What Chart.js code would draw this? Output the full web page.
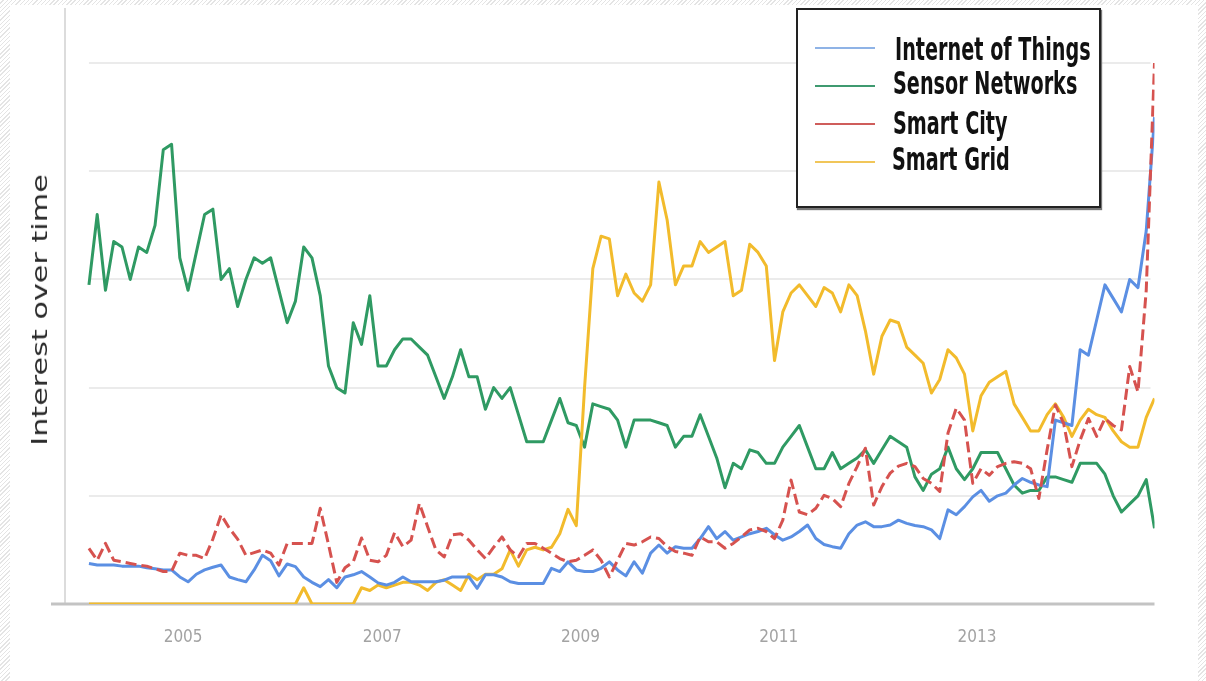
<!DOCTYPE html>
<html><head><meta charset="utf-8">
<script src="https://cdn.jsdelivr.net/npm/chart.js@4.4.1/dist/chart.umd.min.js"></script>
<style>
html,body{margin:0;padding:0;}
body{width:1206px;height:681px;overflow:hidden;position:relative;
 background:repeating-linear-gradient(135deg,#ffffff 0px,#ffffff 2px,#e4e4e4 2px,#e4e4e4 3px);}
#panel{position:absolute;left:10px;top:5px;right:8px;bottom:0;background:#fff;}
#c{position:absolute;left:0;top:0;}
#ytitle{position:absolute;left:40px;top:310px;transform:translate(-50%,-50%) rotate(-90deg) scaleX(1.44);
 font-family:"DejaVu Sans",sans-serif;font-size:21px;color:#2a2a2a;white-space:nowrap;}
#legend{position:absolute;left:796px;top:8px;width:301px;height:196px;border:2px solid #222;background:#fff;box-shadow:1px 2px 1px #777;}
.sw{position:absolute;left:17px;width:60px;height:2px;}
.lbl{position:absolute;font-family:"DejaVu Sans Condensed","DejaVu Sans",sans-serif;font-weight:bold;font-size:24px;line-height:30px;height:30px;color:#111;white-space:nowrap;transform:scale(0.89,1.3);transform-origin:left center;}
</style></head>
<body>
<div id="panel"></div>
<canvas id="c" width="1206" height="681"></canvas>
<div id="ytitle">Interest over time</div>
<div id="legend"></div>
<script>
// Monthly index 0 = Jan 2004
const yearTickPos = [11.4, 35.5, 59.5, 83.5, 107.5];
const yearLabels = ['2005', '2007', '2009', '2011', '2013'];
const gridValues = [20, 40, 60, 80, 100];
const seriesNames = ['Internet of Things', 'Sensor Networks', 'Smart City', 'Smart Grid'];

const iot = [
 7.5,7.2,7.2,7.2,7,7,7,6.7,6.5,6.3,
 6.3,5,4.1,5.5,6.3,6.8,7.2,5,4.5,4.1,
 6.3,9,8,5.2,7.4,6.9,5,4,3.2,4.5,
 3,5,5.4,6,5,3.9,3.5,4,5,4.1,
 4.1,4.1,4.1,4.4,5,5,5,2.9,5.4,5.4,
 5,4.1,3.8,3.8,3.8,3.8,6.6,6,7.8,6.3,
 6,6,6.6,7.8,6.3,5.2,7.8,5.7,9.4,10.9,
 9.4,10.6,10.3,10.3,12.1,14.3,12.1,13.4,11.8,12.4,
 13,13.4,14,12.8,11.8,12.4,13.4,14.6,12.1,11,
 10.6,10.3,13,14.6,15.2,14.3,14.3,14.6,15.5,14.9,
 14.5,14.3,13.7,12.1,17.4,16.5,18,19.8,21,19,
 20,20.5,22,23.2,22.5,22,21.7,34,33.5,33,
 47,46,52.5,59,56.5,54,60,58.5,69,90
];
const sensor = [
 59,72,58,67,66,60,66,65,70,84,
 85,64,58,65,72,73,60,62,55,60,
 64,63,64,58,52,56,66,64,57,44,
 40,39,52,48,57,44,44,47,49,49,
 47.5,46,42,38,42,47,42,42,36,40,
 38,40,35,30,30,30,34,38,33.5,33,
 29,37,36.5,36,34,29,34,34,34,33.5,
 33,29,31,31,35,31,27,21.5,26,25,
 28.5,28,26,26,29,31,33,29,25,25,
 28,25,26,27,28.5,26,28.5,31,30,29,
 23.5,21,24,25,29,25,23,25,28,28,
 28,25,22,20.5,21,21,23.5,23.5,23,22.5,
 26,26,26,24,20,17,18.5,20,23,14
];
const city = [
 10.3,8.1,11.2,8.1,7.8,7.5,7.2,7,6.5,6,
 6,9.4,9,9,8.4,12,16.5,14,12,9,
 9.5,10,9.4,7.2,11.2,11.2,11.2,11.2,17.7,11,
 4,6.7,7.8,12.2,8.1,7.8,9,13.2,10.6,11.8,
 18.6,14.3,10,8.7,12.8,13,11.8,10,8.4,10.5,
 12.4,10,8.7,11.2,11.2,10.3,9.4,8.4,7.8,8.1,
 9,10,8.1,5,8.1,11.2,10.9,11.5,12.4,12.1,
 10.6,9.7,9.4,9,12.4,11.5,11.5,10.3,11.2,12.4,
 13.7,14,13.4,12.1,15.5,22.9,17,16.5,17.7,20.1,
 19.5,18,22.3,25.4,28.8,18.3,21.7,24.2,25.5,26,
 25.4,23.2,22.3,20.8,31.6,36.2,34,22.3,25,23.8,
 25.4,26,26.3,26,25,19.5,28.5,36.8,33.4,25.4,
 30.3,34.3,31,34.3,33,32.2,43.9,39.2,58,100
];
const grid = [
 0,0,0,0,0,0,0,0,0,0,
 0,0,0,0,0,0,0,0,0,0,
 0,0,0,0,0,0,3,0,0,0,
 0,0,0,3,2.5,3.5,3,3.5,4,4,
 3.5,2.5,4,4.5,3.5,2.5,5.5,4.5,5.5,5.5,
 6.5,10,7,10,10.5,10,10.5,13,17.5,14.5,
 40,62,68,67.5,57,61,57.5,56,59,78,
 71,59,62.5,62.5,67,65,66,67,57,58,
 66.5,65,62.5,45,54,57.5,59,57,55,58.5,
 57.5,54,59,57,50.5,42.5,49.5,52.5,52,47.5,
 46,44.5,39,41.5,47,45.5,42.5,32,38.5,41,
 42,43,37,34.5,32,32,35,37,34.5,31,
 34,36,35,34.5,32,30,29,29,34.5,38
];

const colors = ['#5b8fe3', '#2f9a63', '#d6524f', '#f2bb2c'];
const legendColors = ['#8fb3e6', '#3f9a70', '#cf5d5b', '#f1c659'];
const toPts = arr => arr.map((v, i) => ({x: i, y: v}));

const gridPlugin = {
  id: 'trendGrid',
  beforeDatasetsDraw(chart) {
    const {ctx, chartArea, scales: {x, y}} = chart;
    ctx.save();
    ctx.strokeStyle = '#ebebeb';
    ctx.lineWidth = 2;
    const x0 = x.getPixelForValue(0);
    gridValues.forEach(v => {
      const py = Math.round(y.getPixelForValue(v));
      ctx.beginPath(); ctx.moveTo(x0, py); ctx.lineTo(chartArea.right - 4, py); ctx.stroke();
    });
    const pb = y.getPixelForValue(0);
    ctx.strokeStyle = '#c3c3c3';
    ctx.lineWidth = 3;
    ctx.beginPath(); ctx.moveTo(chartArea.left - 14, pb); ctx.lineTo(chartArea.right, pb); ctx.stroke();
    ctx.restore();
  }
};

const chart = new Chart(document.getElementById('c'), {
  type: 'line',
  data: {
    datasets: [
      {label: seriesNames[0], data: toPts(iot), borderColor: colors[0], order: 1},
      {label: seriesNames[1], data: toPts(sensor), borderColor: colors[1], order: 3},
      {label: seriesNames[2], data: toPts(city), borderColor: colors[2], borderDash: [11, 5], order: 0},
      {label: seriesNames[3], data: toPts(grid), borderColor: colors[3], order: 2}
    ]
  },
  options: {
    responsive: false,
    animation: false,
    layout: {padding: {left: 0, right: 51.5, top: 9, bottom: 0}},
    elements: {
      point: {radius: 0, hoverRadius: 0},
      line: {tension: 0, borderWidth: 3, borderJoinStyle: 'round', borderCapStyle: 'butt', fill: false}
    },
    plugins: {legend: {display: false}, tooltip: {enabled: false}},
    scales: {
      x: {
        type: 'linear', min: -2.9, max: 129,
        grid: {display: false, drawTicks: false},
        border: {display: false},
        afterBuildTicks: s => { s.ticks = yearTickPos.map(v => ({value: v})); },
        afterFit: s => { s.height = 77; },
        ticks: {
          callback: (v, i) => yearLabels[i],
          font: {family: '"DejaVu Sans Condensed", "DejaVu Sans", sans-serif', size: 17},
          color: '#a3a3a3', padding: 23, maxRotation: 0, autoSkip: false
        }
      },
      y: {
        min: 0, max: 110,
        grid: {display: false, drawTicks: false},
        border: {display: true, color: '#dcdcdc', width: 2},
        ticks: {display: false},
        afterFit: s => { s.width = 65; }
      }
    }
  },
  plugins: [gridPlugin]
});

// HTML legend built from the chart's datasets
const rowSw = [37, 75, 113, 151];
const rowTx = [25, 59, 99, 135];
const rowTxX = [97, 95, 95, 94];
const leg = document.getElementById('legend');
chart.data.datasets.forEach((ds, i) => {
  const sw = document.createElement('div');
  sw.className = 'sw';
  sw.style.top = rowSw[i] + 'px';
  sw.style.background = legendColors[i];
  leg.appendChild(sw);
  const t = document.createElement('div');
  t.className = 'lbl';
  t.style.top = rowTx[i] + 'px';
  t.style.left = rowTxX[i] + 'px';
  t.textContent = ds.label;
  leg.appendChild(t);
});
</script>
</body></html>
